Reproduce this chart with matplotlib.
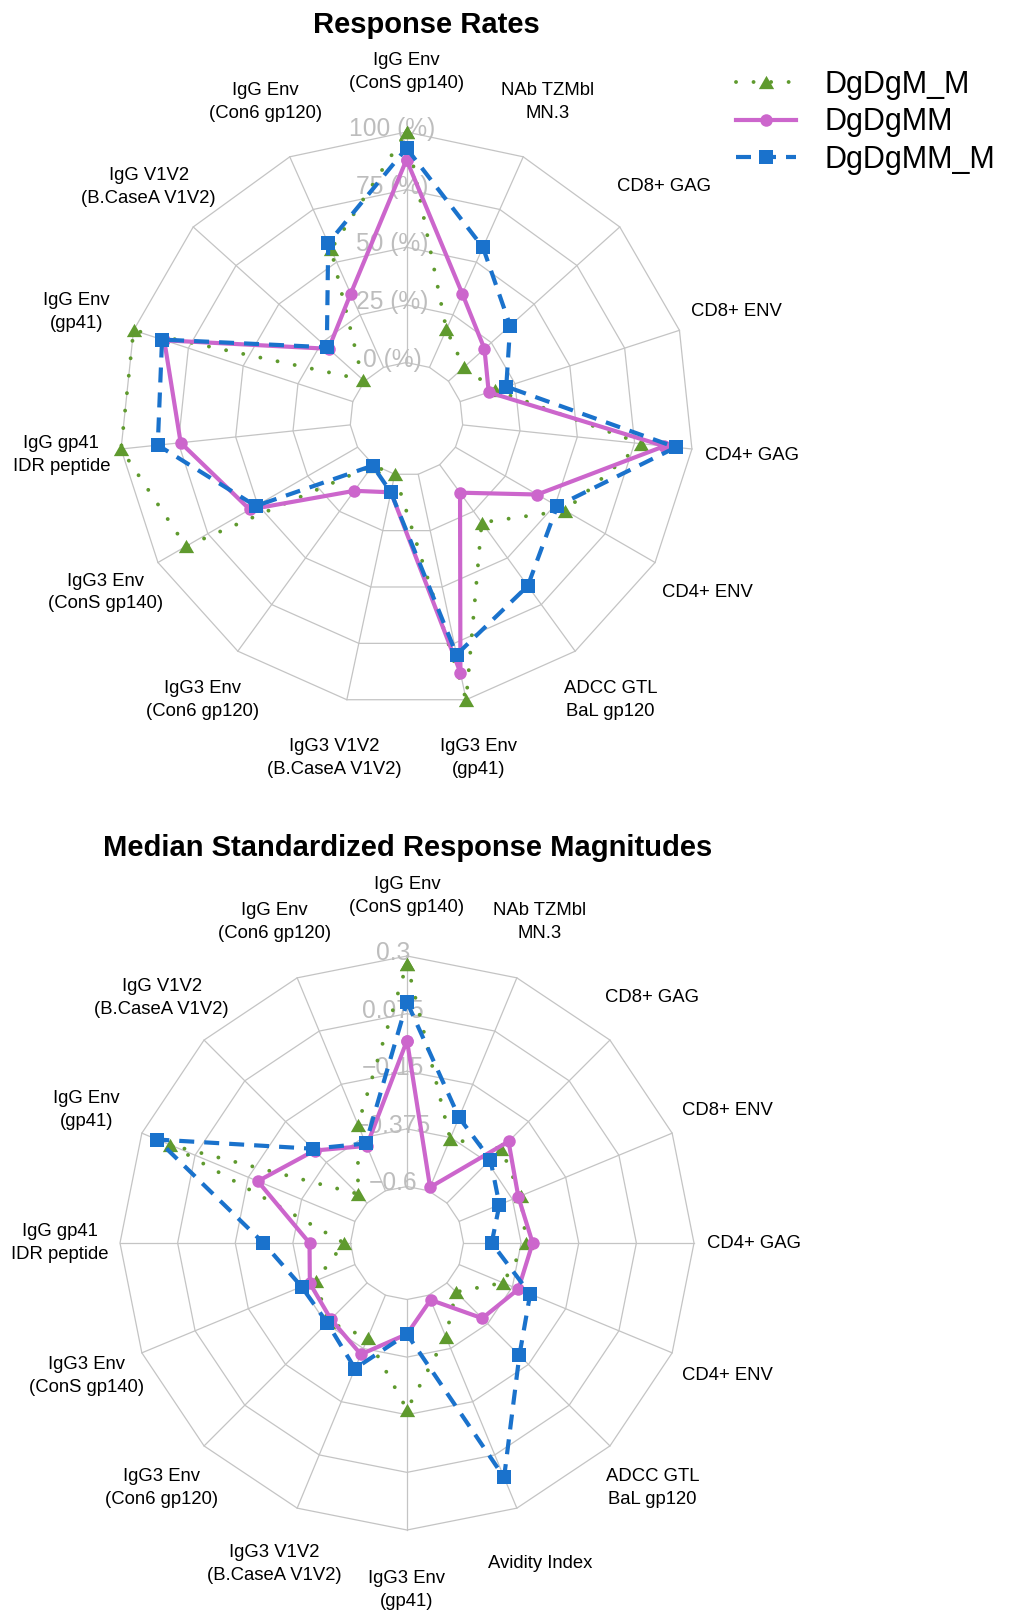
import numpy as np
import matplotlib
matplotlib.use("Agg")
import matplotlib.pyplot as plt
from matplotlib.transforms import ScaledTranslation

plt.rcParams['font.family'] = ['Liberation Sans', 'DejaVu Sans']

# ---------------- data ----------------
series_names = ['DgDgM_M', 'DgDgMM', 'DgDgMM_M']

rate_labels = ['IgG Env\n(ConS gp140)', 'NAb TZMbl\nMN.3', 'CD8+ GAG', 'CD8+ ENV',
               'CD4+ GAG', 'CD4+ ENV', 'ADCC GTL\nBaL gp120', 'IgG3 Env\n(gp41)',
               'IgG3 V1V2\n(B.CaseA V1V2)', 'IgG3 Env\n(Con6 gp120)',
               'IgG3 Env\n(ConS gp140)', 'IgG gp41\nIDR peptide', 'IgG Env\n(gp41)',
               'IgG V1V2\n(B.CaseA V1V2)', 'IgG Env\n(Con6 gp120)']
rate_dgdgm_m = [100, 18, 9, 16, 78, 55, 31, 100, 0, 0.5, 86, 100, 100, 1, 56]
rate_dgdgmm = [88, 35, 21, 13, 88, 41, 15, 88, 8, 14, 54, 74, 86, 21, 35]
rate_dgdgmm_m = [93, 57, 36, 21, 93, 51, 65, 80, 8, 0.5, 51, 84, 87, 22, 59]
rate_ticks = [0, 25, 50, 75, 100]
rate_ticklabels = ['0 (%)', '25 (%)', '50 (%)', '75 (%)', '100 (%)']

mag_labels = ['IgG Env\n(ConS gp140)', 'NAb TZMbl\nMN.3', 'CD8+ GAG', 'CD8+ ENV',
              'CD4+ GAG', 'CD4+ ENV', 'ADCC GTL\nBaL gp120', 'Avidity Index',
              'IgG3 Env\n(gp41)', 'IgG3 V1V2\n(B.CaseA V1V2)', 'IgG3 Env\n(Con6 gp120)',
              'IgG3 Env\n(ConS gp140)', 'IgG gp41\nIDR peptide', 'IgG Env\n(gp41)',
              'IgG V1V2\n(B.CaseA V1V2)', 'IgG Env\n(Con6 gp120)']
mag_dgdgm_m = [0.27, -0.38, -0.30, -0.34, -0.355, -0.415, -0.55, -0.425,
               -0.17, -0.42, -0.385, -0.435, -0.575, 0.18, -0.55, -0.32]
mag_dgdgmm = [-0.03, -0.585, -0.26, -0.35, -0.33, -0.35, -0.405, -0.58,
              -0.465, -0.35, -0.40, -0.41, -0.44, -0.19, -0.31, -0.41]
mag_dgdgmm_m = [0.12, -0.29, -0.36, -0.43, -0.49, -0.30, -0.20, 0.17,
                -0.465, -0.29, -0.38, -0.375, -0.26, 0.235, -0.30, -0.40]
mag_ticks = [-0.6, -0.375, -0.15, 0.075, 0.3]
mag_ticklabels = ['\u22120.6', '\u22120.375', '\u22120.15', '0.075', '0.3']

# ---------------- styles ----------------
GREEN = '#5f9a2e'
ORCHID = '#cc66cc'
BLUE = '#1a72cc'
GRID = '#c4c4c4'
TICKGREY = '#bdbdbd'
TRI = [(0, 1), (-1.15, -1), (1.15, -1)]

styles = [
    dict(color=GREEN, lw=2.8, linestyle=(0, (0.01, 4.5)), dash_capstyle='round',
         marker=TRI, ms=11, mew=0),
    dict(color=ORCHID, lw=3.0, linestyle='-', marker='o', ms=9, mew=0),
    dict(color=BLUE, lw=3.0, linestyle=(0, (3.6, 2.4)), marker='s', ms=10.3, mew=0),
]

W, H = 1016, 1613
fig = plt.figure(figsize=(W / 100, H / 100), dpi=100)

R = 287.0      # outer radius in px
HOLE = 56.5    # hole radius in px
LABR = 347.0   # label radius in px


def radar(center, labels, data, ticks, ticklabels):
    cx, cy = center
    ax = fig.add_axes([(cx - R) / W, 1 - (cy + R) / H, 2 * R / W, 2 * R / H],
                      projection='polar')
    n = len(labels)
    theta = np.arange(n) * 2 * np.pi / n
    closed = np.append(theta, theta[0])
    lo, hi = ticks[0], ticks[-1]
    frac = HOLE / R
    rorig = lo - frac / (1 - frac) * (hi - lo)
    ax.set_theta_zero_location('N')
    ax.set_theta_direction(-1)
    ax.set_ylim(lo, hi)
    ax.set_rorigin(rorig)
    ax.axis('off')   # no circular frame / hole edge; polygon grid drawn below

    for t in ticks:
        ax.plot(closed, [t] * (n + 1), color=GRID, lw=0.9, zorder=1, clip_on=False)
    for th in theta:
        ax.plot([th, th], [lo, hi], color=GRID, lw=0.9, zorder=1, clip_on=False)

    off = ScaledTranslation(-14 / 100, 3 / 100, fig.dpi_scale_trans)
    for t, tl in zip(ticks, ticklabels):
        ax.text(0, t, tl, transform=ax.transData + off, ha='center', va='center',
                fontsize=17.7, color=TICKGREY, zorder=2)

    rlab = rorig + LABR / R * (hi - rorig)
    for th, lab in zip(theta, labels):
        ax.text(th, rlab, lab, ha='center', va='center', multialignment='center',
                fontsize=13.3, color='black', linespacing=1.45)

    handles = []
    for vals, st, name in zip(data, styles, series_names):
        v = np.append(vals, vals[0])
        h, = ax.plot(closed, v, clip_on=False, zorder=3, label=name, **st)
        handles.append(h)
    return ax, handles


radar((406.5, 419), rate_labels, [rate_dgdgm_m, rate_dgdgmm, rate_dgdgmm_m],
      rate_ticks, rate_ticklabels)
ax2, handles = radar((407, 1243), mag_labels, [mag_dgdgm_m, mag_dgdgmm, mag_dgdgmm_m],
                     mag_ticks, mag_ticklabels)

fig.text(426 / W, 1 - 25 / H, 'Response Rates', ha='center', va='center',
         fontsize=21, fontweight='bold')
fig.text(408 / W, 1 - 848 / H, 'Median Standardized Response Magnitudes',
         ha='center', va='center', fontsize=21, fontweight='bold')

fig.legend(handles=handles, labels=series_names, loc='upper left',
           bbox_to_anchor=(736 / W, 1 - 70 / H), frameon=False, fontsize=22,
           handlelength=1.95, handletextpad=0.95, labelspacing=0.24,
           borderpad=0, borderaxespad=0)

fig.savefig('out.png', dpi=100)
